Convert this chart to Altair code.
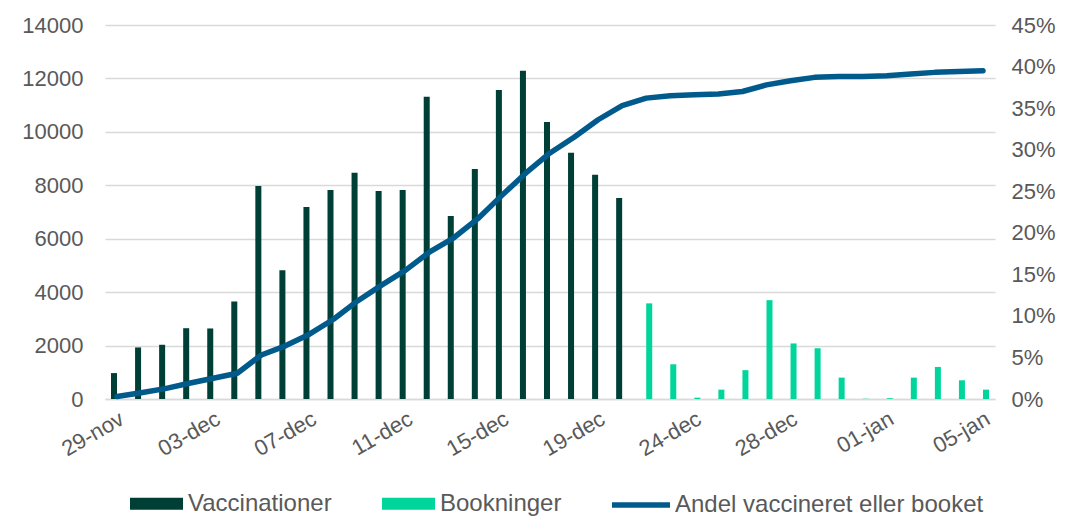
import altair as alt
import pandas as pd

dates = ["29-nov", "30-nov", "01-dec", "02-dec", "03-dec", "04-dec", "05-dec", "06-dec",
         "07-dec", "08-dec", "09-dec", "10-dec", "11-dec", "12-dec", "13-dec", "14-dec",
         "15-dec", "16-dec", "17-dec", "18-dec", "19-dec", "20-dec", "21-dec", "22-dec",
         "24-dec", "25-dec", "26-dec", "27-dec", "28-dec", "29-dec", "30-dec", "31-dec",
         "01-jan", "02-jan", "03-jan", "04-jan", "05-jan"]

vacc_dates = dates[:22]
vaccinationer = [970, 1930, 2030, 2650, 2640, 3650, 7970, 4820, 7190, 7820, 8470, 7790,
                 7820, 11310, 6850, 8610, 11570, 12290, 10370, 9220, 8390, 7520]

book_dates = dates[22:]
bookninger = [3580, 1300, 50, 350, 1080, 3700, 2080, 1900, 800, 10, 30, 800, 1200, 700, 350]

andel = [0.003, 0.0075, 0.0125, 0.019, 0.025, 0.031, 0.053, 0.064, 0.078, 0.096, 0.118,
         0.137, 0.155, 0.177, 0.194, 0.217, 0.245, 0.272, 0.296, 0.315, 0.336, 0.353,
         0.362, 0.365, 0.366, 0.367, 0.370, 0.378, 0.383, 0.387, 0.388, 0.388, 0.389,
         0.391, 0.393, 0.394, 0.395]

tick_labels = ["29-nov", "03-dec", "07-dec", "11-dec", "15-dec", "19-dec", "24-dec",
               "28-dec", "01-jan", "05-jan"]

S_V = "Vaccinationer"
S_B = "Bookninger"
S_L = "Andel vaccineret eller booket"

bars = pd.DataFrame(
    {"date": vacc_dates + book_dates,
     "value": vaccinationer + bookninger,
     "series": [S_V] * len(vacc_dates) + [S_B] * len(book_dates)}
)
line = pd.DataFrame({"date": dates, "pct": andel, "lineseries": [S_L] * len(dates)})

FONT = "Liberation Sans"
GRAY = "#595959"
GRID = "#d9d9d9"

x_enc = alt.X(
    "date:N", sort=dates, title=None,
    scale=alt.Scale(paddingInner=0.5, paddingOuter=0.25),
    axis=alt.Axis(values=tick_labels, labelAngle=330, labelAlign="right",
                  labelBaseline="top", labelPadding=9, ticks=False,
                  domainColor=GRID, domainWidth=1.5, labelFont=FONT,
                  labelFontSize=22, labelColor=GRAY, grid=False),
)

bar_layer = alt.Chart(bars).mark_bar().encode(
    x=x_enc,
    xOffset=alt.XOffset("series:N", scale=alt.Scale(domain=[S_V, S_B])),
    y=alt.Y("value:Q", title=None,
            scale=alt.Scale(domain=[0, 14000]),
            axis=alt.Axis(values=list(range(0, 14001, 2000)), format="d", ticks=False,
                          domain=False, grid=True, gridColor=GRID, gridWidth=1.5,
                          labelPadding=22, labelFont=FONT, labelFontSize=22,
                          labelColor=GRAY)),
    color=alt.Color("series:N", title=None,
                    scale=alt.Scale(domain=[S_V, S_B], range=["#003F35", "#00D69B"]),
                    legend=alt.Legend(orient="none", legendX=25, legendY=452,
                                      direction="horizontal", title=None,
                                      symbolType="M-1,-0.23H1V0.23H-1Z", symbolSize=2809,
                                      symbolStrokeWidth=0, labelOffset=5, columnPadding=50,
                                      padding=0, labelFont=FONT, labelFontSize=24,
                                      labelLimit=400, labelColor=GRAY)),
)

line_layer = alt.Chart(line).mark_line(strokeWidth=5.5, strokeCap="round",
                                       strokeJoin="round").encode(
    x=x_enc,
    y=alt.Y("pct:Q", title=None,
            scale=alt.Scale(domain=[0, 0.45]),
            axis=alt.Axis(orient="right", format=".0%",
                          values=[i * 0.05 for i in range(10)], ticks=False, domain=False,
                          grid=False, labelPadding=16, labelFont=FONT, labelFontSize=22,
                          labelColor=GRAY)),
    stroke=alt.Stroke("lineseries:N", title=None,
                      scale=alt.Scale(domain=[S_L], range=["#005A8C"]),
                      legend=alt.Legend(orient="none", legendX=504, legendY=448,
                                        direction="horizontal", title=None,
                                        symbolType="stroke", symbolSize=3364,
                                        symbolStrokeWidth=5.5, labelOffset=2, padding=0,
                                        labelFont=FONT, labelFontSize=24, labelLimit=500,
                                        labelColor=GRAY)),
)

chart = alt.layer(bar_layer, line_layer).resolve_scale(y="independent").properties(
    width=890, height=374,
    autosize=alt.AutoSizeParams(type="none"),
    padding={"left": 97, "top": 17, "right": 63, "bottom": 118},
).configure_view(stroke=None)

chart.save("out.html", embed_options={"renderer": "svg", "actions": False})
